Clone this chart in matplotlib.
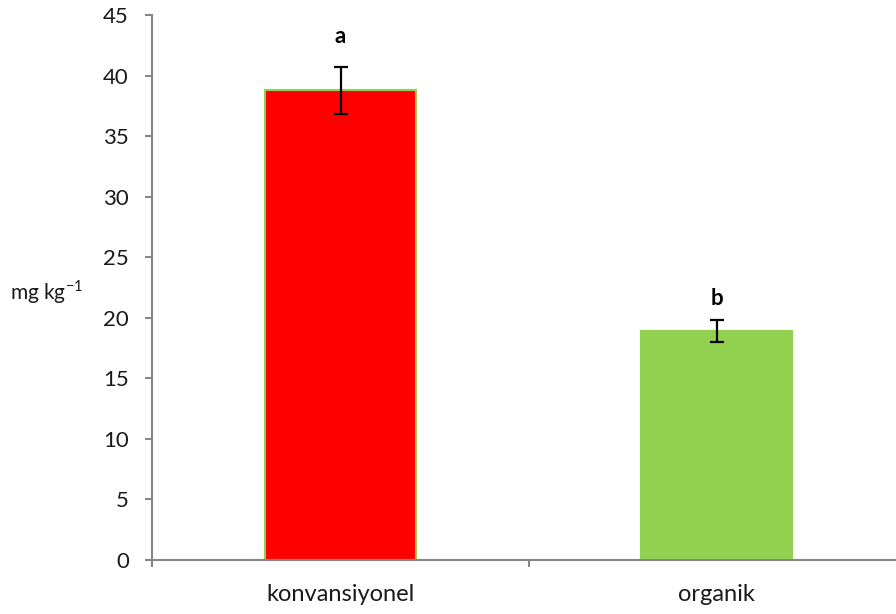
import matplotlib.pyplot as plt

plt.rcParams['font.family'] = ['Lato', 'DejaVu Sans']

categories = ['konvansiyonel', 'organik']
values = [38.8, 18.9]
errors = [1.95, 0.93]
letters = ['a', 'b']
letter_y = [43.2, 21.6]
bar_colors = ['#FF0000', '#92D050']
yticks = [0, 5, 10, 15, 20, 25, 30, 35, 40, 45]

fig = plt.figure(figsize=(8.96, 6.14), dpi=100)
ax = fig.add_axes([0.1702, 0.0879, 0.8393, 0.8876])

x = range(len(categories))
ax.bar(x, values, width=0.4, color=bar_colors, edgecolor='#92D050', linewidth=1.5, zorder=2)
ax.errorbar(x, values, yerr=errors, fmt='none', ecolor='black', elinewidth=1.6,
            capsize=5, capthick=1.6, zorder=3)

# significance letters
for i, (ly, s) in enumerate(zip(letter_y, letters)):
    ax.text(i, ly, s, ha='center', va='center', fontsize=16, fontweight='bold', color='black')

ax.set_xlim(-0.5, 1.5)
ax.set_ylim(0, 45)
ax.set_yticks(yticks)
ax.set_xticks([0, 1])
ax.set_xticklabels(categories)
ax.set_xticks([-0.5, 0.5, 1.5], minor=True)
ax.tick_params(axis='x', which='major', length=0, pad=17, labelsize=17, labelcolor='#1a1a1a')
ax.tick_params(axis='x', which='minor', length=5, width=1.5, color='#868686')
ax.tick_params(axis='y', length=5, width=1.5, color='#868686', labelsize=16,
               labelcolor='#1a1a1a', pad=12)

for side in ['top', 'right']:
    ax.spines[side].set_visible(False)
for side in ['left', 'bottom']:
    ax.spines[side].set_color('#868686')
    ax.spines[side].set_linewidth(1.5)

fig.text(10 / 896, 1 - 292 / 614, 'mg kg$^{\\mathregular{-1}}$', fontsize=15, color='#1a1a1a',
         ha='left', va='center')

fig.savefig('out.png', dpi=100)
